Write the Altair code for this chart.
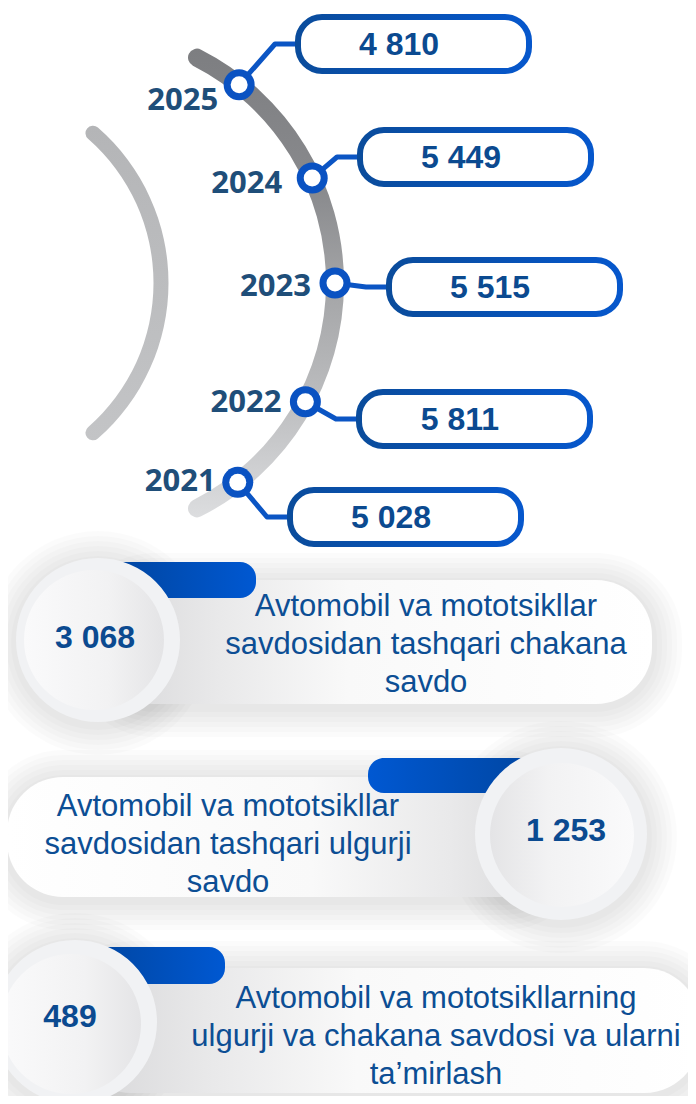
import math
import altair as alt
import pandas as pd

# ---------------- data ----------------
years = [2025, 2024, 2023, 2022, 2021]
yearly_values = [4810, 5449, 5515, 5811, 5028]

card_values = [3068, 1253, 489]
card_text = [
    ["Avtomobil va mototsikllar", "savdosidan tashqari chakana", "savdo"],
    ["Avtomobil va mototsikllar", "savdosidan tashqari ulgurji", "savdo"],
    ["Avtomobil va mototsikllarning", "ulgurji va chakana savdosi va ularni", "ta’mirlash"],
]


def fmt(v):
    return f"{v:,}".replace(",", " ")


# ---------------- layout (pixel positions of the infographic) ----------------
ARC_CX, ARC_CY, ARC_R, ARC_W = 82, 283, 253, 18
LARC_CX, LARC_CY, LARC_R, LARC_W = -38, 283, 199, 15
marker_angle = [38.4, 65.5, 90, 118, 142]
label_dx = [-21, -30, -24, -24, -22]
label_dy = [16, 6, 4, 1, 0]
box_left = [295, 357, 386, 356, 287]
box_cy = [44, 157, 287, 419, 517]
BOX_W, BOX_H, BOX_SW = 237, 60, 6

card_rect = [(98, 652, 580, 704), (7, 561, 777, 897), (75, 700, 968, 1093)]
card_bar = [(98, 256, 562, 598), (368, 561, 758, 793), (75, 225, 947, 984)]
card_circle = [(98, 640, 82), (561, 834, 86), (75, 1022, 82)]
card_inner = [(94, 640, 70), (562, 835, 72), (71, 1024, 70)]
card_value_xy = [(95, 638), (566, 831), (70, 1017)]
card_text_x = [426, 228, 436]
card_text_base = [[616, 654, 692], [816, 854, 892], [1008, 1046, 1084]]
card_side = ["left", "right", "left"]

# ---------------- colours ----------------
YEAR_COL = "#1f4e79"
VAL_COL = "#0b4a90"
DESC_COL = "#0c4e94"
MARK_COL = "#0a52c2"
LINE_COL = "#0b55c4"

XS = alt.Scale(domain=[8, 688], nice=False, zero=False)
YS = alt.Scale(domain=[8, 1096], nice=False, zero=False, reverse=True)


def X(f="x"):
    return alt.X(f"{f}:Q", scale=XS, axis=None)


def Y(f="y"):
    return alt.Y(f"{f}:Q", scale=YS, axis=None)


def grad(stops, x1=0, x2=1, y1=0, y2=0):
    return alt.Gradient(
        gradient="linear", x1=x1, x2=x2, y1=y1, y2=y2,
        stops=[alt.GradientStop(offset=o, color=c) for o, c in stops],
    )


def rect_layer(rows, **mark):
    df = pd.DataFrame(rows, columns=["x", "x2", "y", "y2"])
    return alt.Chart(df).mark_rect(**mark).encode(
        x=X("x"), x2=alt.X2("x2:Q"), y=Y("y"), y2=alt.Y2("y2:Q")
    )


def circle_layer(rows, **mark):
    df = pd.DataFrame(rows, columns=["x", "y", "d"])
    df["s"] = df["d"] ** 2
    mark.setdefault("opacity", 1)
    return alt.Chart(df).mark_circle(**mark).encode(
        x=X("x"), y=Y("y"), size=alt.Size("s:Q", scale=None, legend=None)
    )


layers = []

# ---------------- arcs ----------------
layers.append(
    alt.Chart(pd.DataFrame({"x": [LARC_CX], "y": [LARC_CY]}))
    .mark_arc(
        theta=math.radians(39), theta2=math.radians(141),
        radius=LARC_R + LARC_W / 2, radius2=LARC_R - LARC_W / 2,
        cornerRadius=LARC_W / 2,
        fill=grad([(0, "#b4b5b7"), (1, "#c3c4c6")], x1=0, x2=0, y1=0, y2=1),
    )
    .encode(x=X(), y=Y())
)
layers.append(
    alt.Chart(pd.DataFrame({"x": [ARC_CX], "y": [ARC_CY]}))
    .mark_arc(
        theta=math.radians(25), theta2=math.radians(155),
        radius=ARC_R + ARC_W / 2, radius2=ARC_R - ARC_W / 2,
        cornerRadius=ARC_W / 2,
        fill=grad([(0, "#7d7e81"), (0.3, "#898a8d"), (0.5, "#a3a4a6"),
                   (0.75, "#bcbdbf"), (1, "#dcdddf")], x1=0, x2=0, y1=0, y2=1),
    )
    .encode(x=X(), y=Y())
)

# ---------------- year markers, connectors, boxes ----------------
mx = [ARC_CX + ARC_R * math.sin(math.radians(a)) for a in marker_angle]
my = [ARC_CY - ARC_R * math.cos(math.radians(a)) for a in marker_angle]

conn_rows = []
for i, yr in enumerate(years):
    conn_rows.append({"year": yr, "o": 0, "x": mx[i], "y": my[i]})
    conn_rows.append({"year": yr, "o": 1, "x": box_left[i] - 20, "y": box_cy[i]})
    conn_rows.append({"year": yr, "o": 2, "x": box_left[i] + 3, "y": box_cy[i]})
layers.append(
    alt.Chart(pd.DataFrame(conn_rows))
    .mark_line(color=LINE_COL, strokeWidth=5, strokeJoin="round", strokeCap="round")
    .encode(x=X(), y=Y(), detail="year:N", order="o:Q")
)

box_rows = [
    (box_left[i] + BOX_SW / 2, box_left[i] + BOX_W - BOX_SW / 2,
     box_cy[i] - (BOX_H - BOX_SW) / 2, box_cy[i] + (BOX_H - BOX_SW) / 2)
    for i in range(len(years))
]
layers.append(
    rect_layer(
        box_rows, fill="white", strokeWidth=BOX_SW, cornerRadius=24,
        stroke=grad([(0, "#0a4c9c"), (1, "#0657cc")]),
    )
)

layers.append(circle_layer([(mx[i], my[i], 31) for i in range(len(years))], color=MARK_COL))
layers.append(circle_layer([(mx[i], my[i], 17) for i in range(len(years))], color="white"))

year_df = pd.DataFrame({
    "x": [mx[i] + label_dx[i] for i in range(len(years))],
    "y": [my[i] + label_dy[i] for i in range(len(years))],
    "t": [str(y) for y in years],
})
layers.append(
    alt.Chart(year_df)
    .mark_text(font="Open Sans", fontWeight="bold", fontSize=31, color=YEAR_COL,
               align="right", baseline="middle")
    .encode(x=X(), y=Y(), text="t:N")
)

val_df = pd.DataFrame({
    "x": [box_left[i] + 104 for i in range(len(years))],
    "y": [box_cy[i] + 1 for i in range(len(years))],
    "t": [fmt(v) for v in yearly_values],
})
layers.append(
    alt.Chart(val_df)
    .mark_text(font="Liberation Sans", fontWeight="bold", fontSize=32, color=VAL_COL,
               align="center", baseline="middle")
    .encode(x=X(), y=Y(), text="t:N")
)

# ---------------- bottom cards ----------------
# soft shadows
for k in range(1, 7):
    e = 5 * k
    layers.append(
        rect_layer([(r[0] - e, r[1] + e, r[2] - e + 3, r[3] + e + 3) for r in card_rect],
                   color="#000000", opacity=0.014, cornerRadius=56 + e)
    )
    layers.append(
        circle_layer([(c[0], c[1] + 3, 2 * (c[2] + e)) for c in card_circle],
                     color="#000000", opacity=0.014)
    )

for j in range(len(card_values)):
    left = card_side[j] == "left"
    if left:
        cstops = [(0, "#d6d6d8"), (0.22, "#e9e9ea"), (0.45, "#f9f9f9"), (1, "#ffffff")]
        bstops = [(0, "#00439a"), (1, "#0058d2")]
        istops = [(0, "#fafafb"), (0.6, "#f2f2f3"), (1, "#e4e4e6")]
    else:
        cstops = [(0, "#ffffff"), (0.55, "#f9f9f9"), (0.8, "#e9e9ea"), (1, "#d6d6d8")]
        bstops = [(0, "#0058d2"), (1, "#00439a")]
        istops = [(0, "#e4e4e6"), (0.4, "#f2f2f3"), (1, "#fafafb")]
    layers.append(rect_layer([card_rect[j]], fill=grad(cstops), cornerRadius=56))
    layers.append(rect_layer([card_bar[j]], fill=grad(bstops), cornerRadius=16))
    c = card_circle[j]
    layers.append(circle_layer([(c[0], c[1], 2 * c[2])], fill="#f1f2f4"))
    ci = card_inner[j]
    layers.append(circle_layer([(ci[0], ci[1], 2 * ci[2])], fill=grad(istops)))

cv_df = pd.DataFrame({
    "x": [p[0] for p in card_value_xy],
    "y": [p[1] for p in card_value_xy],
    "t": [fmt(v) for v in card_values],
})
layers.append(
    alt.Chart(cv_df)
    .mark_text(font="Liberation Sans", fontWeight="bold", fontSize=32, color=VAL_COL,
               align="center", baseline="middle")
    .encode(x=X(), y=Y(), text="t:N")
)

desc_rows = []
for j, lines in enumerate(card_text):
    for k, line in enumerate(lines):
        desc_rows.append({"x": card_text_x[j], "y": card_text_base[j][k], "t": line})
layers.append(
    alt.Chart(pd.DataFrame(desc_rows))
    .mark_text(font="Liberation Sans", fontSize=31, color=DESC_COL,
               align="center", baseline="alphabetic")
    .encode(x=X(), y=Y(), text="t:N")
)

chart = (
    alt.layer(*layers)
    .properties(width=680, height=1088, autosize=alt.AutoSizeParams(type="none"),
                padding=0, background="white")
    .configure_view(stroke=None)
)

chart.save("out.html", embed_options={"renderer": "svg", "actions": False})
